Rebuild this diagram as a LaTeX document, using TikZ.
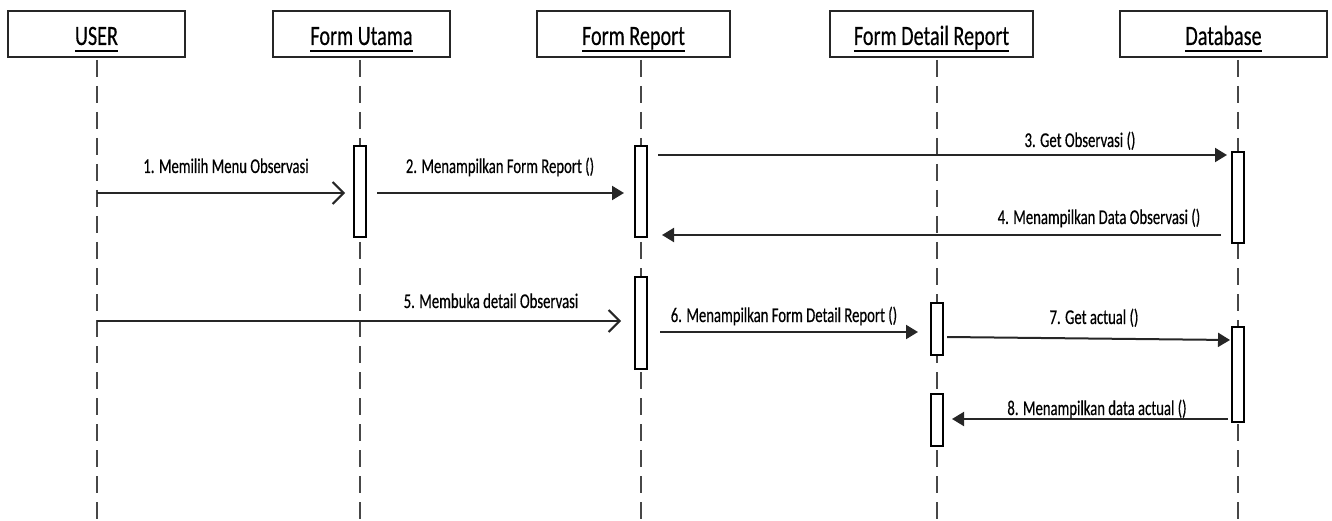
\documentclass[tikz,border=0pt]{standalone}
\usepackage{fontspec}
\setmainfont{Carlito}
\newfontfamily\hdrfont[FakeStretch=0.72,FakeBold=0.4]{Carlito}
\newfontfamily\lblfont[FakeStretch=0.70,FakeBold=0.4]{Carlito}
\usetikzlibrary{arrows.meta}
\newcommand\hul[1]{\setbox0=\hbox{#1}\rlap{\copy0}\raisebox{-7pt}{\rule{\wd0}{1.8pt}}}
\begin{document}
\begin{tikzpicture}[x=1pt,y=-1pt,
  hdrbox/.style={draw=black!85, line width=1.4pt, minimum height=46pt, inner sep=0pt},
  hdrtext/.style={font=\hdrfont\fontsize{28}{30}\selectfont, inner sep=0pt, anchor=base, text=black},
  life/.style={draw=black!72, line width=1.4pt, dash pattern=on 17pt off 9pt},
  act/.style={draw=black, line width=1.3pt, fill=white, minimum width=12pt, inner sep=0pt},
  msg/.style={draw=black!85, line width=2pt},
  syncmsg/.style={msg, -{Triangle[length=12pt,width=14pt]}},
  openmsg/.style={msg, -{Straight Barb[length=11pt,width=22pt,line width=2pt]}},
  lbl/.style={font=\lblfont\fontsize{21}{22}\selectfont, inner sep=0pt, anchor=base, text=black}
]
\useasboundingbox (0,0) rectangle (1332,521);

% header boxes
\node[hdrbox, minimum width=177pt] (hUser) at (96.5,34) {};
\node[hdrbox, minimum width=177pt] (hUtama) at (361.5,34) {};
\node[hdrbox, minimum width=193pt] (hReport) at (633.5,34) {};
\node[hdrbox, minimum width=203pt] (hDetail) at (931.5,34) {};
\node[hdrbox, minimum width=207pt] (hDb) at (1223.5,34) {};
\node[hdrtext] (tUser) at (96.5,45) {\hul{USER}};
\node[hdrtext] (tUtama) at (361.5,45) {\hul{Form Utama}};
\node[hdrtext] (tReport) at (633.5,45) {\hul{Form Report}};
\node[hdrtext] (tDetail) at (931.5,45) {\hul{Form Detail Report}};
\node[hdrtext] (tDb) at (1223.5,45) {\hul{Database}};

% lifelines
\coordinate (lUserT) at (97,60);   \coordinate (lUserB) at (97,521);
\coordinate (lUtamaT) at (360,60); \coordinate (lUtamaB) at (360,521);
\coordinate (lReportT) at (641,60); \coordinate (lReportB) at (641,521);
\coordinate (lDetailT) at (937,60); \coordinate (lDetailB) at (937,521);
\coordinate (lDbT) at (1238,60);   \coordinate (lDbB) at (1238,521);
\draw[life] (lUserT) -- (lUserB);
\draw[life] (lUtamaT) -- (lUtamaB);
\draw[life] (lReportT) -- (lReportB);
\draw[life] (lDetailT) -- (lDetailB);
\draw[life] (lDbT) -- (lDbB);

% activations
\node[act, minimum height=91pt] (a1) at (360,191.5) {};
\node[act, minimum height=91pt] (a2) at (641,191.5) {};
\node[act, minimum height=91pt] (a3) at (1238,197.5) {};
\node[act, minimum height=92pt] (a4) at (641,323) {};
\node[act, minimum height=52pt] (a5) at (937,329) {};
\node[act, minimum height=95pt] (a6) at (1238,374.5) {};
\node[act, minimum height=52pt] (a7) at (937,420) {};

% message end points
\coordinate (m1s) at (97,193);   \coordinate (m1e) at (345,193);
\coordinate (m2s) at (377,193);  \coordinate (m2e) at (624,193);
\coordinate (m3s) at (658,155);  \coordinate (m3e) at (1227,155);
\coordinate (m4s) at (1221,235); \coordinate (m4e) at (662,235);
\coordinate (m5s) at (97,321);   \coordinate (m5e) at (621,321);
\coordinate (m6s) at (660,332);  \coordinate (m6e) at (918,332);
\coordinate (m7s) at (947,337);  \coordinate (m7e) at (1230,340);
\coordinate (m8s) at (1228,419); \coordinate (m8e) at (952,419);

\draw[openmsg] (m1s) -- (m1e);
\draw[syncmsg] (m2s) -- (m2e);
\draw[syncmsg] (m3s) -- (m3e);
\draw[syncmsg] (m4s) -- (m4e);
\draw[openmsg] (m5s) -- (m5e);
\draw[syncmsg] (m6s) -- (m6e);
\draw[syncmsg] (m7s) -- (m7e);
\draw[syncmsg] (m8s) -- (m8e);

% labels
\node[lbl] (l1) at (226,173) {1. Memilih Menu Observasi};
\node[lbl] (l2) at (500,173) {2. Menampilkan Form Report ()};
\node[lbl] (l3) at (1080,147) {3. Get Observasi ()};
\node[lbl] (l4) at (1099,224) {4. Menampilkan Data Observasi ()};
\node[lbl] (l5) at (491,308) {5. Membuka detail Observasi};
\node[lbl] (l6) at (784,322) {6. Menampilkan Form Detail Report ()};
\node[lbl] (l7) at (1094,324) {7. Get actual ()};
\node[lbl] (l8) at (1097,415) {8. Menampilkan data actual ()};
\end{tikzpicture}
\end{document}
